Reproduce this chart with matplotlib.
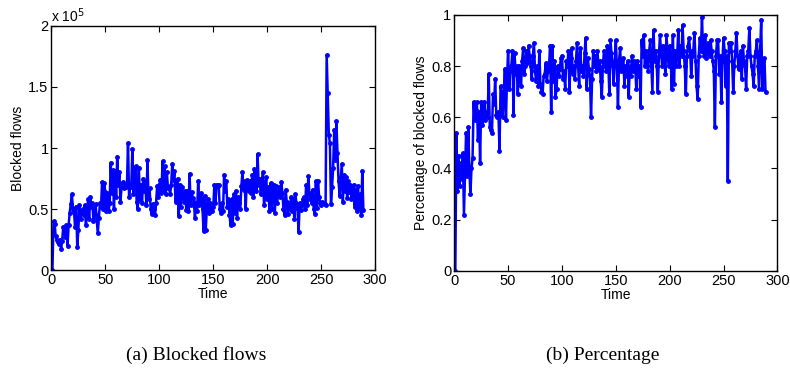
import numpy as np
import matplotlib
matplotlib.use("Agg")
import matplotlib.pyplot as plt
from matplotlib.ticker import FuncFormatter

# blocked flows per time step, in units of 1e4
blocked_1e4 = [
    0.0, 4.0, 3.8, 2.8, 2.5, 2.3, 2.1, 2.5, 1.7, 2.4,
    3.5, 3.3, 2.7, 3.7, 2.0, 3.7, 4.7, 5.4, 6.2, 5.0,
    4.8, 3.5, 5.2, 1.9, 3.3, 5.3, 4.2, 4.7, 5.0, 4.5,
    5.3, 3.7, 4.5, 5.8, 4.2, 6.0, 5.2, 5.5, 4.0, 4.6,
    5.4, 4.2, 3.0, 4.3, 5.5, 5.2, 7.2, 5.0, 7.1, 6.4,
    4.8, 6.3, 4.8, 5.5, 8.8, 6.3, 8.2, 5.0, 8.1, 6.0,
    9.3, 7.0, 8.0, 5.6, 6.8, 7.2, 6.7, 7.0, 6.8, 6.9,
    10.4, 6.0, 7.0, 6.8, 9.9, 6.2, 7.5, 8.5, 5.6, 5.0,
    8.4, 5.8, 7.0, 5.5, 7.5, 6.5, 7.2, 5.3, 9.0, 5.8,
    6.7, 5.0, 4.6, 5.4, 5.0, 4.5, 5.5, 6.9, 6.0, 7.0,
    7.4, 6.3, 8.9, 6.5, 8.5, 6.2, 8.0, 6.7, 6.8, 6.2,
    7.0, 8.7, 7.4, 8.1, 5.6, 6.1, 7.5, 4.4, 7.0, 5.2,
    6.8, 6.0, 5.6, 6.5, 4.9, 6.5, 4.8, 7.9, 5.3, 6.4,
    5.9, 5.6, 4.3, 5.4, 4.8, 7.3, 5.3, 6.2, 6.3, 5.0,
    3.2, 6.1, 3.3, 5.0, 5.8, 4.7, 5.5, 5.0, 4.8, 5.2,
    7.0, 5.5, 7.0, 6.9, 7.0, 5.0, 4.7, 5.5, 4.8, 7.8,
    6.5, 7.3, 5.2, 5.8, 4.5, 3.7, 5.8, 3.8, 6.2, 4.7,
    6.5, 4.3, 6.0, 5.5, 5.0, 6.9, 8.0, 6.6, 7.3, 5.0,
    7.4, 7.0, 6.5, 7.3, 6.3, 7.8, 6.0, 8.3, 7.0, 6.5,
    9.5, 7.0, 7.5, 6.2, 7.3, 8.0, 5.3, 6.6, 7.6, 5.8,
    6.8, 4.8, 7.1, 5.0, 6.5, 7.0, 4.7, 6.9, 5.5, 6.2,
    6.8, 6.0, 7.2, 6.3, 5.0, 4.5, 6.6, 5.6, 4.6, 5.5,
    5.0, 6.0, 4.8, 5.8, 4.2, 6.2, 5.5, 5.0, 3.1, 5.5,
    4.9, 5.3, 5.8, 6.0, 5.0, 7.0, 5.3, 7.7, 6.3, 5.8,
    5.5, 6.6, 5.0, 4.6, 7.3, 5.1, 7.3, 6.0, 5.5, 5.3,
    5.6, 5.5, 5.4, 5.3, 17.6, 14.5, 11.1, 10.4, 5.4, 6.8,
    8.4, 11.5, 9.0, 12.2, 9.6, 7.3, 6.1, 7.4, 8.7, 5.6,
    7.8, 6.5, 7.6, 5.9, 7.3, 6.4, 7.0, 5.8, 6.2, 7.0,
    5.2, 6.6, 4.8, 6.9, 5.1, 6.2, 4.5, 8.1, 4.9,
]

# fraction of flows that were blocked
blocked_pct = [
    0.00, 0.54, 0.31, 0.45, 0.33, 0.42, 0.36, 0.46, 0.22, 0.38,
    0.54, 0.37, 0.56, 0.40, 0.30, 0.40, 0.44, 0.66, 0.59, 0.63,
    0.66, 0.51, 0.62, 0.42, 0.66, 0.57, 0.60, 0.66, 0.59, 0.62,
    0.60, 0.77, 0.56, 0.55, 0.54, 0.69, 0.65, 0.75, 0.61, 0.60,
    0.62, 0.47, 0.72, 0.70, 0.60, 0.68, 0.79, 0.59, 0.75, 0.86,
    0.71, 0.78, 0.80, 0.86, 0.61, 0.85, 0.77, 0.80, 0.69, 0.80,
    0.78, 0.72, 0.82, 0.87, 0.77, 0.80, 0.86, 0.81, 0.88, 0.84,
    0.80, 0.75, 0.84, 0.89, 0.78, 0.74, 0.80, 0.72, 0.86, 0.73,
    0.70, 0.69, 0.76, 0.77, 0.81, 0.74, 0.78, 0.80, 0.88, 0.62,
    0.88, 0.74, 0.82, 0.68, 0.71, 0.80, 0.76, 0.79, 0.83, 0.84,
    0.75, 0.78, 0.71, 0.82, 0.80, 0.86, 0.70, 0.83, 0.87, 0.77,
    0.80, 0.75, 0.82, 0.89, 0.80, 0.72, 0.87, 0.78, 0.80, 0.76,
    0.85, 0.91, 0.71, 0.83, 0.79, 0.76, 0.60, 0.75, 0.86, 0.80,
    0.84, 0.78, 0.86, 0.79, 0.82, 0.74, 0.68, 0.80, 0.86, 0.82,
    0.78, 0.88, 0.82, 0.69, 0.90, 0.85, 0.80, 0.73, 0.82, 0.90,
    0.80, 0.64, 0.82, 0.87, 0.78, 0.80, 0.83, 0.72, 0.80, 0.76,
    0.82, 0.68, 0.80, 0.76, 0.84, 0.78, 0.82, 0.80, 0.71, 0.82,
    0.76, 0.80, 0.64, 0.90, 0.84, 0.92, 0.80, 0.86, 0.82, 0.78,
    0.86, 0.90, 0.80, 0.70, 0.94, 0.82, 0.86, 0.80, 0.70, 0.84,
    0.92, 0.86, 0.80, 0.88, 0.84, 0.77, 0.92, 0.86, 0.80, 0.88,
    0.82, 0.71, 0.92, 0.73, 0.86, 0.80, 0.84, 0.94, 0.80, 0.88,
    0.84, 0.96, 0.86, 0.80, 0.69, 0.84, 0.88, 0.91, 0.86, 0.76,
    0.84, 0.86, 0.93, 0.82, 0.72, 0.67, 0.84, 0.91, 0.86, 0.99,
    0.86, 0.84, 0.92, 0.83, 0.86, 0.89, 0.84, 0.90, 0.86, 0.82,
    0.78, 0.56, 0.84, 0.90, 0.90, 0.77, 0.84, 0.66, 0.82, 0.91,
    0.86, 0.72, 0.84, 0.35, 0.89, 0.86, 0.89, 0.82, 0.70, 0.80,
    0.86, 0.93, 0.84, 0.79, 0.82, 0.86, 0.75, 0.88, 0.82, 0.80,
    0.71, 0.84, 0.86, 0.95, 0.84, 0.80, 0.77, 0.72, 0.84, 0.86,
    0.90, 0.80, 0.71, 0.86, 0.98, 0.71, 0.80, 0.83, 0.70,
]

x_ticks = [0, 50, 100, 150, 200, 250, 300]
captions = ["(a) Blocked flows", "(b) Percentage"]

plt.rcParams["font.family"] = ["Liberation Sans", "DejaVu Sans"]

fig = plt.figure(figsize=(7.9, 3.7), dpi=100)
ax1 = fig.add_axes([0.065, 0.27, 0.410, 0.66])
ax2 = fig.add_axes([0.575, 0.268, 0.409, 0.692])

blocked = np.array(blocked_1e4) * 1e4
t1 = np.arange(1, len(blocked) + 1)
t2 = np.arange(1, len(blocked_pct) + 1)

style = dict(color="#0000ff", lw=1.8, marker=".", ms=5)
ax1.plot(t1, blocked, **style)
ax2.plot(t2, blocked_pct, **style)

ax1.set_ylim(0, 2e5)
ax1.set_yticks([0, 0.5e5, 1e5, 1.5e5, 2e5])
ax1.yaxis.set_major_formatter(FuncFormatter(lambda v, p: f"{v / 1e5:g}"))
ax1.text(0.0, 1.005, r"x 10$^5$", transform=ax1.transAxes, fontsize=10,
         va="bottom", ha="left")
ax1.set_ylabel("Blocked flows", fontsize=10, labelpad=2)

ax2.set_ylim(0, 1)
ax2.set_yticks([0, 0.2, 0.4, 0.6, 0.8, 1.0])
ax2.yaxis.set_major_formatter(FuncFormatter(lambda v, p: f"{v:g}"))
ax2.set_ylabel("Percentage of blocked flows", fontsize=10, labelpad=2)

for ax in (ax1, ax2):
    ax.set_xlim(0, 300)
    ax.set_xticks(x_ticks)
    ax.set_xlabel("Time", fontsize=10, labelpad=0)
    ax.tick_params(direction="in", top=True, right=True, labelsize=10.5,
                   length=4, width=0.8, pad=2)
    for s in ax.spines.values():
        s.set_linewidth(1.0)

fig.text(0.248, 0.028, captions[0], family="Liberation Serif", fontsize=14,
         ha="center")
fig.text(0.763, 0.028, captions[1], family="Liberation Serif", fontsize=14,
         ha="center")

fig.savefig("out.png", dpi=100)
